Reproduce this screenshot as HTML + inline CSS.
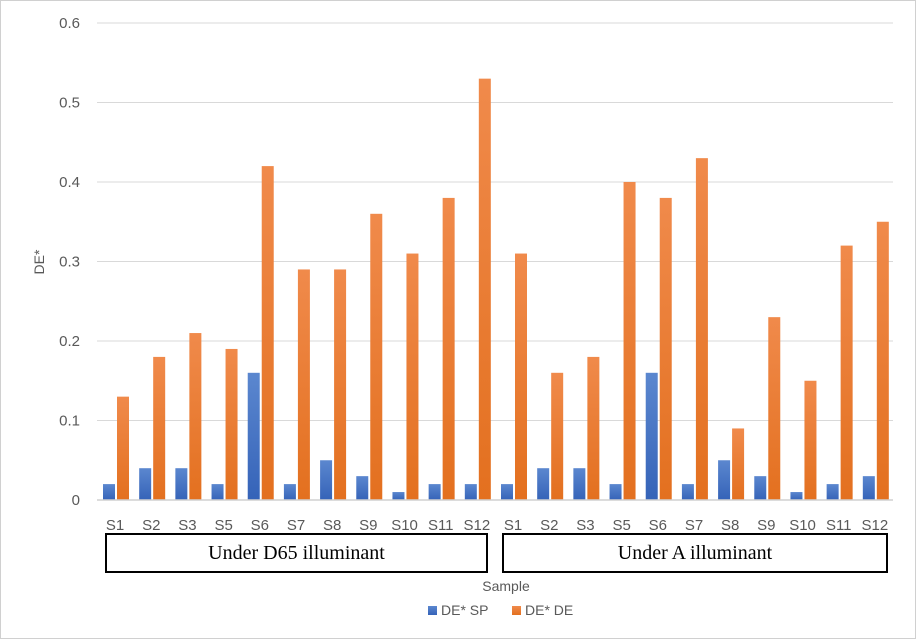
<!DOCTYPE html>
<html><head><meta charset="utf-8">
<style>
body{margin:0;background:#fff;}
#wrap{position:relative;width:916px;height:639px;overflow:hidden;background:#fff;}
.frame{position:absolute;left:0;top:0;width:914px;height:637px;border:1px solid #d0d0d0;}
.box{position:absolute;border:2px solid #000;box-sizing:border-box;font-family:"Liberation Serif",serif;font-size:20px;text-align:center;line-height:36px;color:#000;}
</style></head><body>
<div id="wrap">
<div class="frame"></div>
<svg id="svg" width="916" height="639" style="position:absolute;left:0;top:0">
<defs>
<linearGradient id="gb" x1="0" y1="0" x2="0" y2="1"><stop offset="0" stop-color="#5b87cf"/><stop offset="1" stop-color="#3563b8"/></linearGradient>
<linearGradient id="go" x1="0" y1="0" x2="0" y2="1"><stop offset="0" stop-color="#f08a4b"/><stop offset="1" stop-color="#e3701f"/></linearGradient>
</defs>
</svg>
<div class="box" style="left:105px;top:533px;width:383px;height:40px">Under D65 illuminant</div>
<div class="box" style="left:502px;top:533px;width:386px;height:40px">Under A illuminant</div>
</div>
<script>
const categories=["S1","S2","S3","S5","S6","S7","S8","S9","S10","S11","S12","S1","S2","S3","S5","S6","S7","S8","S9","S10","S11","S12"];
const seriesSP=[0.02,0.04,0.04,0.02,0.16,0.02,0.05,0.03,0.01,0.02,0.02,0.02,0.04,0.04,0.02,0.16,0.02,0.05,0.03,0.01,0.02,0.03];
const seriesDE=[0.13,0.18,0.21,0.19,0.42,0.29,0.29,0.36,0.31,0.38,0.53,0.31,0.16,0.18,0.40,0.38,0.43,0.09,0.23,0.15,0.32,0.35];
const yTicks=[0,0.1,0.2,0.3,0.4,0.5,0.6];
const yTickLabels=["0","0.1","0.2","0.3","0.4","0.5","0.6"];
const seriesNames=["DE* SP","DE* DE"];

const NS="http://www.w3.org/2000/svg";
const svg=document.getElementById('svg');
const L=97,R=893,T=23,B=500;
const y=v=>B-(v/0.6)*(B-T);
const step=(R-L)/categories.length;
const x=i=>L+step*i;
function mk(tag,attrs,txt){const e=document.createElementNS(NS,tag);for(const k in attrs)e.setAttribute(k,attrs[k]);if(txt!==undefined)e.textContent=txt;svg.appendChild(e);return e;}
const font='"Liberation Sans",sans-serif';
yTicks.forEach((t,i)=>{
  const g=mk('line',{x1:L,x2:R,y1:y(t),y2:y(t),stroke:'#d9d9d9','stroke-width':1});
  
  
  const tl=mk('text',{x:80,y:y(t)+5,'text-anchor':'end','font-family':font,'font-size':15,fill:'#595959'},yTickLabels[i]);
  
  
});
categories.forEach((c,i)=>{
  const b=mk('rect',{x:x(i)+6,y:y(seriesSP[i]),width:12,height:B-y(seriesSP[i]),fill:'url(#gb)'});
  
  
  const o=mk('rect',{x:x(i)+20,y:y(seriesDE[i]),width:12,height:B-y(seriesDE[i]),fill:'url(#go)'});
  
  
  const tl=mk('text',{x:x(i)+step/2,y:530,'text-anchor':'middle','font-family':font,'font-size':15,fill:'#595959'},c);
  
  
});
const ax=mk('line',{x1:L,x2:R,y1:B,y2:B,stroke:'#d0d0d0','stroke-width':1.5});


const yt=mk('text',{x:0,y:0,transform:'translate(44,262) rotate(-90)','text-anchor':'middle','font-family':font,'font-size':14,fill:'#595959'},'DE*');


const xt=mk('text',{x:506,y:591,'text-anchor':'middle','font-family':font,'font-size':14,fill:'#595959'},'Sample');


const lg=[[428,'url(#gb)'],[512,'url(#go)']];
lg.forEach((p,i)=>{
  const s=mk('rect',{x:p[0],y:606,width:9,height:9,fill:p[1]});
  
  
  const t=mk('text',{x:p[0]+13,y:615,'font-family':font,'font-size':14,fill:'#595959'},seriesNames[i]);
  
  
});
</script>
</body></html>
